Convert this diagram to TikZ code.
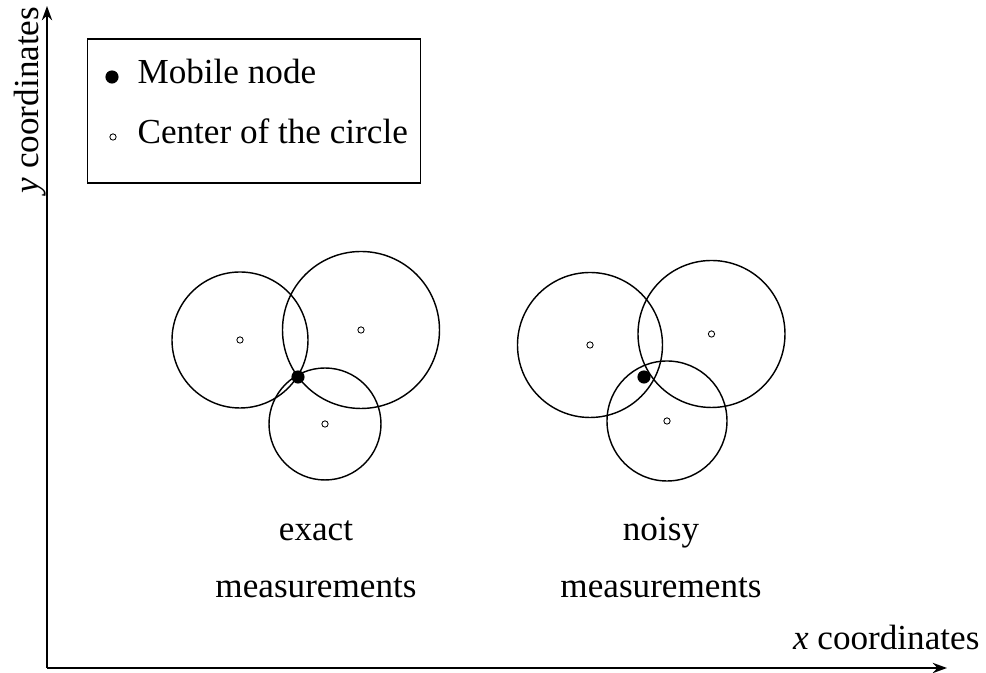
\documentclass[tikz,border=0pt]{standalone}
\usepackage{fontspec}
\setmainfont{Liberation Serif}
\usetikzlibrary{arrows.meta}
\tikzset{
  axis/.style={line width=0.7pt, -{Stealth[length=5pt,width=3.6pt]}},
  ring/.style={line width=0.5pt},
  mobile/.style={circle, fill=black, inner sep=0pt, minimum size=4.6pt},
  centre/.style={circle, draw, line width=0.3pt, inner sep=0pt, minimum size=2.2pt},
  lbl/.style={font=\fontsize{12.3}{14}\selectfont, inner sep=0pt}
}

\begin{document}
\begin{tikzpicture}[x=0.35pt, y=-0.35pt]
    \useasboundingbox (0,0) rectangle (986,673);
    \coordinate (origin) at (47,668);
    \coordinate (xtip) at (947,668);
    \coordinate (ytip) at (47,6);
    \draw[axis] (origin) -- (xtip);
    \draw[axis] (origin) -- (ytip);
    \node[lbl, rotate=90] (ylab) at (30,100) {\textit{y} coordinates};
    \node[lbl, anchor=base east] (xlab) at (980,650) {\textit{x} coordinates};

    \node[draw, line width=0.6pt, minimum width=116.5pt, minimum height=50.5pt, inner sep=0pt] (legend) at (254,111) {};
    \node[mobile] (legmob) at (112,77) {};
    \node[lbl, anchor=base west] (legmobtxt) at (137,84) {Mobile node};
    \node[centre] (legcen) at (113,137) {};
    \node[lbl, anchor=base west] (legcentxt) at (137,144) {Center of the circle};

    \node[centre] (ea) at (240,340) {};
    \node[centre] (eb) at (361,330) {};
    \node[centre] (ec) at (325,424) {};
    \draw[ring] (ea) circle[radius=68];
    \draw[ring] (eb) circle[radius=78.5];
    \draw[ring] (ec) circle[radius=56];
    \node[mobile] (em) at (298,377) {};
    \node[lbl, anchor=base] (etop) at (316,541) {exact};
    \node[lbl, anchor=base] (ebot) at (316,598) {measurements};

    \node[centre] (na) at (590,345) {};
    \node[centre] (nb) at (711.5,334) {};
    \node[centre] (nc) at (667,421) {};
    \draw[ring] (na) circle[radius=72.5];
    \draw[ring] (nb) circle[radius=73.5];
    \draw[ring] (nc) circle[radius=60];
    \node[mobile] (nm) at (644,377) {};
    \node[lbl, anchor=base] (ntop) at (661,541) {noisy};
    \node[lbl, anchor=base] (nbot) at (661,598) {measurements};
\end{tikzpicture}
\end{document}
